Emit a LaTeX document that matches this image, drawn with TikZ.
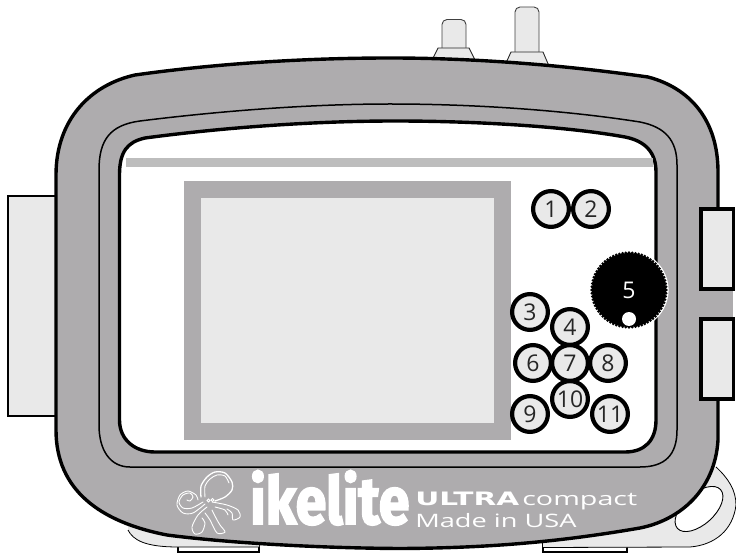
\documentclass[tikz,border=0pt]{standalone}
\usepackage{fontspec}
\setmainfont{Open Sans}
\newfontfamily\logofont[FakeBold=3]{Fira Sans Bold}
\newfontfamily\ultrafont{DejaVu Sans Bold}
\usetikzlibrary{positioning}
\definecolor{shell}{HTML}{AEACAE}
\definecolor{lightpart}{HTML}{E9E9E9}
\definecolor{stripe}{HTML}{BDBDBD}
\tikzset{
  btn/.style={circle,draw=black,line width=4.2pt,fill=lightpart,minimum size=35.8pt,inner sep=0pt,font=\fontsize{23}{23}\selectfont,text=black!85},
  lightbox/.style={draw=black,fill=lightpart},
  logotext/.style={inner sep=0pt,text=white,anchor=base west},
  squid/.style={draw=white,line width=0.9pt,line cap=round}
}
\begin{document}
\begin{tikzpicture}[x=1pt,y=-1pt]
\useasboundingbox (0,0) rectangle (736,553);
% knobs
\draw[fill=lightpart,line width=0.9pt,draw=black!75,rounded corners=5pt] (442,50)--(442,19.5)--(466,19.5)--(466,50);
\draw[fill=lightpart,line width=0.9pt,draw=black!85] (438,48)--(469,48)--(475,60)--(432,60)--cycle;
\draw[fill=lightpart,line width=0.9pt,draw=black!75,rounded corners=5pt] (515,54)--(515,7)--(539,7)--(539,54);
\draw[fill=lightpart,line width=0.9pt,draw=black!85] (511,52)--(543,52)--(549,66)--(506,63)--cycle;
% bottom tabs
\draw[line width=1.2pt,fill=white] (178,540)--(178,552)--(259,552)--(259,540);
\draw[line width=1.2pt,fill=white] (543,540)--(543,552)--(627,552)--(627,540);
% lower skirt and lug
\fill[lightpart] (128,530) .. controls (133,540) and (145,547) .. (177,547) -- (259,547) -- (259,540) -- (128,525) -- cycle;
\draw[line width=0.8pt] (128,530) .. controls (133,540) and (145,547) .. (178,547) -- (259,547);
\fill[lightpart] (543,547.5) -- (627,547.5) -- (690,547) .. controls (715,545) and (733,530) .. (736,505) .. controls (736,490) and (728,478) .. (716,467) -- (660,500) -- (543,540) -- cycle;
\draw[line width=0.8pt] (543,547.5) -- (690,547) .. controls (715,545) and (733,530) .. (736,505) .. controls (736,490) and (728,478) .. (716,467);
\draw[line width=0.9pt,fill=white,rotate around={42:(699,509)}] (699,509) ellipse (29 and 15.5);
% side boxes
\draw[lightbox,line width=1.6pt] (8,196) rectangle (60,416);
\fill[shell] (690,289) rectangle (733,319);
% housing
\draw[fill=shell,line width=3.4pt]
  (56,175) .. controls (56,120) and (90,85) .. (135,75)
  .. controls (220,63) and (310,58) .. (390,58)
  .. controls (480,58) and (570,66) .. (648,77)
  .. controls (690,88) and (718,120) .. (718,172)
  -- (718,209) -- (701,209) -- (701,289) -- (718,289) -- (718,319) -- (701,319) -- (701,399) -- (718,399)
  -- (718,440) .. controls (715,490) and (680,520) .. (640,528)
  .. controls (570,540) and (500,548) .. (400,548.5)
  .. controls (310,548) and (220,542) .. (167,535)
  .. controls (100,522) and (56,490) .. (56,430) -- cycle;
\fill[shell] (695,291) rectangle (733,317);
\draw[lightbox,line width=3.6pt] (701,209) rectangle (733.5,289);
\draw[lightbox,line width=3.6pt] (701,319) rectangle (733.5,399);
% groove
\draw[line width=1.5pt] (99,170) .. controls (99,140) and (110,125) .. (140,121)
  .. controls (220,111) and (310,104) .. (390,104)
  .. controls (480,104) and (570,111) .. (640,122)
  .. controls (665,127) and (677,140) .. (677,165)
  -- (677,430) .. controls (677,455) and (665,467) .. (640,467)
  -- (130,467) .. controls (110,467) and (99,450) .. (99,425) -- cycle;
% window
\draw[fill=white,line width=3.4pt] (119.5,175) .. controls (119.5,152) and (127,142) .. (145,138)
  .. controls (220,128) and (310,121) .. (395,121)
  .. controls (480,121) and (570,127) .. (625,137)
  .. controls (645,141) and (656,152) .. (656,172)
  -- (656,420) .. controls (656,440) and (645,452) .. (625,452)
  -- (155,452) .. controls (135,452) and (119.5,440) .. (119.5,420) -- cycle;
\fill[stripe] (126,158) rectangle (653,167);
% screen
\draw[line width=17pt,draw=shell,fill=lightpart] (192.5,189.5) rectangle (502.5,431);
% dial
\fill[white] (629,290) circle (39.6);
\fill[black] (629,290) circle (37);
\foreach \a in {0,5,...,355}
  \fill[black] (629,290) ++(\a:37.3) circle (1.5);
\fill[white] (629,319) circle (7);
\node[inner sep=0pt,text=white,font=\fontsize{23}{23}\selectfont] (dialnum) at (629,290) {5};
% buttons
\node[btn] (btnone) at (551,209) {1};
\node[btn] (btntwo) at (591,209) {2};
\node[btn] (btnthree) at (530,312) {3};
\node[btn] (btnfour) at (570,327) {4};
\node[btn] (btnsix) at (533,363) {6};
\node[btn] (btneight) at (608,363) {8};
\node[btn] (btnseven) at (570,363) {7};
\node[btn] (btnnine) at (530,414) {9};
\node[btn] (btneleven) at (610,414) {11};
\node[btn] (btnten) at (570,399) {10};
% logo
\node[logotext,font=\logofont\fontsize{66}{66}\selectfont,xscale=0.84] (logoname) at (250,524) {ikelite};
\node[logotext,font=\ultrafont\fontsize{18.5}{18.5}\selectfont,xscale=1.6] (logoultra) at (415,505) {ULTRA};
\node[logotext,font=\fontsize{18.5}{18.5}\selectfont,xscale=1.55] (logocompact) at (522,505) {compact};
\node[logotext,font=\fontsize{18.5}{18.5}\selectfont,xscale=1.47] (logomade) at (415,527) {Made in USA};
% octopus
\draw[squid,line width=1.3pt] plot[smooth] coordinates {(201,497) (201,486) (207,477) (215,472) (225,473) (232,482) (232,490) (225,497) (215,501)};
\draw[squid] plot[smooth] coordinates {(205,497) (205,486) (210,479) (217,475) (225,476) (229,483)};
\draw[squid] plot[smooth] coordinates {(203,502) (192,508) (183,508) (179,502) (183,495) (190,493) (193,497) (190,501) (187,500)};
\draw[squid] plot[smooth] coordinates {(205,504) (193,513) (183,513) (177,505) (180,495) (188,491) (196,495) (198,500)};
\draw[squid] plot[smooth] coordinates {(207,507) (198,515) (192,527) (195,534) (202,532) (205,523) (202,518)};
\draw[squid] plot[smooth] coordinates {(212,510) (216,518) (220,525) (225,532) (217,533) (210,520) (205,513)};
\draw[squid] plot[smooth] coordinates {(212,502) (227,505) (238,510) (240,517) (233,520) (232,513) (227,509)};
\draw[squid] plot[smooth] coordinates {(215,507) (225,510) (228,515)};
\draw[squid] (208.5,500.5) circle (1.6);
\draw[squid] (212.5,500) circle (1.4);
\end{tikzpicture}
\end{document}
